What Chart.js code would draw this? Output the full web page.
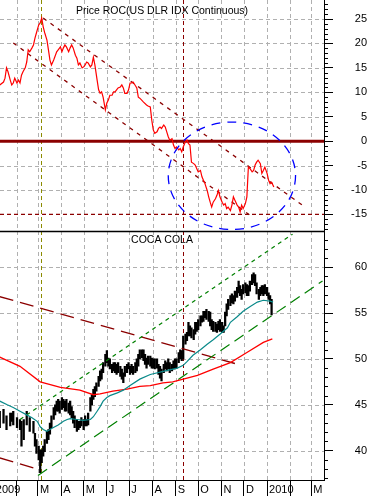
<!DOCTYPE html>
<html>
<head>
<meta charset="utf-8">
<script src="https://cdn.jsdelivr.net/npm/chart.js@4.4.1/dist/chart.umd.min.js"></script>
<style>
  html, body { margin: 0; padding: 0; background: #fff; overflow: hidden; }
</style>
</head>
<body>
<canvas id="chart" width="371" height="496"></canvas>
<script>
// x axis: days since 1 Jan 2009, ticks at month starts
const monthDays = [0, 31, 59, 90, 120, 151, 181, 212, 243, 273, 304, 334, 365, 396, 424];
const monthLabels = ['2009', '', 'M', 'A', 'M', 'J', 'J', 'A', 'S', 'O', 'N', 'D', '2010', '', 'M'];
const dayRange = [8.3, 441];

// top panel: Price ROC of the dollar index
const rocTicks = [-15, -10, -5, 0, 5, 10, 15, 20, 25];
const rocRange = [-18.5, 28.9];
const rocDays = [8, 13, 15, 17, 19, 22, 24, 26, 28, 31, 33, 35, 37, 39, 42, 44, 46, 48, 51, 53, 55, 57, 60, 62, 64, 66, 68, 71, 73, 75,
  77, 80, 84, 86, 89, 91, 93, 95, 97, 100, 102, 104, 106, 109, 111, 113, 115, 118, 120, 122, 124, 126, 129, 131, 133, 135, 138, 140,
  142, 144, 146, 149, 151, 153, 155, 158, 160, 162, 164, 166, 169, 171, 173, 175, 178, 180, 182, 184, 186, 189, 191, 193, 195, 200,
  204, 206, 209, 211, 213, 215, 218, 220, 222, 224, 227, 229, 231, 233, 235, 238, 240, 242, 244, 247, 249, 251, 253, 256, 258, 260,
  262, 264, 267, 269, 271, 273, 276, 278, 280, 282, 285, 287, 289, 291, 293, 296, 298, 300, 302, 305, 307, 309, 311, 313, 316, 318,
  320, 322, 325, 327, 329, 331, 333, 336, 338, 340, 342, 345, 347, 349, 351, 353, 356, 358, 360, 362, 365, 367, 369, 371, 374];
const rocValues = [11.5, 12.1, 12.9, 15.0, 14.2, 12.5, 11.5, 11.9, 12.9, 11.9, 12.5, 11.9, 13.5, 14.2, 15.0, 16.2, 18.7, 18.3, 19.1,
  19.7, 21.1, 22.2, 23.8, 24.2, 25.2, 23.4, 22.2, 20.7, 18.7, 16.6, 15.6, 16.6, 18.3, 18.7, 19.3, 18.3, 19.1, 19.7, 19.3, 18.3, 19.1,
  19.7, 19.1, 17.6, 17.0, 15.6, 16.0, 15.0, 15.2, 15.6, 16.2, 16.0, 15.2, 15.6, 17.2, 15.6, 12.5, 10.5, 9.8, 10.1, 9.0, 6.4, 7.8, 8.4,
  9.4, 9.4, 10.1, 10.1, 10.5, 10.9, 11.1, 11.5, 10.9, 9.8, 9.8, 10.5, 11.9, 11.9, 12.1, 11.4, 10.9, 9.0, 8.8, 8.0, 7.4, 7.2, 7.0, 4.3,
  2.3, 1.6, 1.9, 2.6, 2.9, 2.6, 3.3, 2.9, 1.9, 0.9, 0.2, 0.5, -0.8, -1.5, -1.2, -1.8, -1.5, -2.2, -1.2, -0.1, 0.2, -0.5, -0.8, -4.3,
  -4.6, -4.9, -5.6, -6.3, -6.0, -7.3, -8.0, -8.7, -10.1, -11.4, -12.5, -13.5, -12.5, -11.8, -11.1, -10.1, -11.4, -12.5, -13.1, -12.8,
  -13.8, -13.5, -14.2, -13.1, -11.4, -12.1, -13.1, -13.5, -14.5, -13.1, -13.8, -12.8, -11.4, -5.3, -5.6, -6.3, -6.0, -4.9, -4.3, -3.9,
  -4.6, -6.6, -6.0, -5.3, -6.6, -8.0, -8.7, -8.4, -9.4];
const rocLevels = [0, -15];
const rocUpperDays = [66, 412];
const rocUpperValues = [25.2, -13.1];
const rocLowerDays = [26, 346];
const rocLowerValues = [20.1, -15.6];
// circled area: centre day, centre value, half width in days, half height in ROC points
const rocCircle = [318, -7.1, 85, 11.0];

// bottom panel: Coca Cola daily range and averages
const cokeTicks = [40, 45, 50, 55, 60];
const cokeRange = [36.8, 63.9];
const cokeDays = [8, 13, 17, 22, 24, 26, 31, 35, 37, 40, 44, 48, 53, 55, 57, 60, 62, 64, 66, 68, 71, 73, 75, 77, 80, 82, 84, 86, 88,
  91, 93, 95, 97, 100, 102, 104, 106, 108, 111, 113, 115, 117, 120, 122, 124, 126, 129, 131, 133, 135, 137, 140, 142, 144, 146, 149,
  151, 153, 155, 158, 160, 162, 164, 166, 169, 171, 173, 175, 178, 180, 182, 184, 186, 189, 191, 193, 195, 198, 200, 202, 204, 206,
  209, 211, 213, 215, 218, 220, 222, 224, 227, 229, 231, 233, 235, 238, 240, 242, 244, 247, 249, 251, 253, 256, 258, 260, 262, 264,
  267, 269, 271, 273, 276, 278, 280, 282, 284, 287, 289, 291, 293, 296, 298, 300, 302, 305, 307, 309, 311, 313, 316, 318, 320, 322,
  325, 327, 329, 331, 333, 336, 338, 340, 342, 345, 347, 349, 351, 354, 356, 358, 360, 362, 365, 367, 369, 371];
const cokeLow = [42.5, 43.0, 42.3, 42.7, 43.2, 42.8, 42.5, 42.3, 40.5, 41.2, 42.8, 42.1, 41.9, 40.5, 39.7, 39.0, 37.6, 38.7, 39.4,
  39.9, 40.8, 41.2, 41.8, 42.5, 43.4, 43.9, 44.3, 44.3, 44.1, 44.5, 44.7, 44.3, 44.3, 44.1, 43.9, 43.6, 43.0, 42.5, 42.1, 42.3, 42.5,
  42.7, 42.3, 42.7, 42.7, 42.8, 44.3, 45.0, 45.6, 45.9, 46.5, 47.0, 47.6, 47.8, 48.5, 49.2, 49.6, 49.2, 48.9, 48.5, 48.7, 48.5, 48.3,
  48.5, 48.1, 47.8, 47.4, 48.1, 48.5, 48.9, 48.3, 48.5, 48.3, 48.5, 48.7, 49.2, 50.0, 50.1, 49.8, 49.4, 49.0, 49.4, 49.2, 49.0, 49.0,
  48.9, 49.0, 48.3, 47.9, 47.6, 48.5, 48.9, 48.7, 48.9, 48.5, 48.7, 48.9, 48.9, 49.0, 49.6, 50.0, 49.8, 50.0, 51.6, 52.0, 52.5, 52.5,
  52.3, 52.1, 52.7, 53.0, 53.2, 53.6, 54.0, 54.1, 54.5, 54.3, 54.1, 53.6, 53.2, 53.0, 53.0, 52.9, 53.2, 53.0, 52.9, 52.9, 53.6, 54.7,
  55.4, 55.8, 56.1, 56.0, 56.3, 56.7, 57.2, 56.9, 56.5, 57.1, 57.2, 56.9, 56.9, 57.4, 58.1, 58.3, 58.0, 57.1, 56.5, 56.9, 57.1, 56.9,
  57.1, 56.9, 56.5, 56.0, 54.8];
const cokeHigh = [44.3, 44.5, 43.8, 44.1, 44.1, 44.3, 43.6, 43.4, 43.2, 43.4, 44.3, 43.6, 43.2, 41.9, 41.2, 40.5, 40.1, 40.1, 40.5,
  41.2, 42.1, 42.3, 43.0, 43.8, 44.7, 45.0, 45.4, 45.6, 45.4, 45.8, 45.6, 45.4, 45.6, 45.2, 45.4, 44.8, 44.3, 43.8, 43.4, 43.2, 43.2,
  43.6, 43.4, 43.8, 43.4, 44.1, 45.8, 46.1, 46.7, 47.0, 47.4, 48.1, 48.7, 48.9, 49.6, 50.5, 50.9, 50.1, 50.0, 49.4, 49.6, 49.6, 49.4,
  49.6, 49.2, 48.9, 48.5, 49.2, 49.4, 49.6, 49.2, 49.4, 49.2, 49.6, 50.0, 50.5, 51.0, 51.0, 51.0, 50.5, 50.1, 50.3, 50.3, 50.1, 50.0,
  50.0, 50.0, 49.4, 49.2, 48.9, 49.4, 49.8, 49.6, 50.0, 49.6, 49.4, 49.8, 50.0, 50.0, 50.7, 51.0, 50.9, 52.5, 52.7, 52.9, 54.0, 53.6,
  53.4, 53.2, 54.0, 54.0, 54.3, 54.7, 54.7, 55.2, 55.2, 55.4, 55.2, 55.1, 54.3, 54.1, 54.0, 53.8, 54.1, 54.3, 54.0, 53.6, 55.1, 56.0,
  56.5, 56.9, 57.1, 56.9, 57.4, 57.8, 58.5, 58.0, 57.6, 58.1, 58.3, 58.1, 58.0, 58.5, 59.2, 59.4, 59.2, 58.3, 57.6, 57.8, 58.0, 58.0,
  58.1, 57.8, 57.2, 56.9, 56.5];
const fastAvgDays = [8, 18, 26, 35, 44, 51, 58, 62, 66, 71, 75, 79, 86, 93, 98, 102, 111, 119, 129, 133, 138, 142, 146, 151, 155, 165,
  173, 182, 195, 209, 229, 245, 253, 258, 266, 276, 285, 293, 302, 312, 316, 325, 333, 342, 352, 360, 369, 373];
const fastAvg = [45.4, 45.0, 44.7, 44.3, 43.9, 43.6, 43.2, 42.6, 42.3, 42.1, 42.3, 42.5, 42.8, 43.2, 43.4, 43.5, 43.4, 43.3, 43.4,
  43.7, 44.3, 44.8, 45.4, 45.8, 46.0, 46.3, 46.6, 47.1, 47.8, 48.3, 48.7, 49.0, 49.3, 49.7, 50.4, 51.0, 51.6, 52.1, 52.7, 53.4, 54.0,
  54.6, 55.2, 55.7, 56.2, 56.4, 56.3, 56.2];
const slowAvgDays = [8, 35, 62, 89, 115, 133, 142, 159, 178, 195, 209, 226, 239, 253, 272, 293, 316, 338, 360, 372];
const slowAvg = [50.2, 49.2, 47.5, 46.9, 46.6, 46.1, 46.2, 46.5, 46.7, 47.0, 47.1, 47.4, 47.5, 47.8, 48.2, 48.9, 49.6, 50.7, 51.8, 52.2];
const cokeUpperDays = [35, 399];
const cokeUpperValues = [43.4, 63.6];
const cokeMidDays = [59, 439];
const cokeMidValues = [37.3, 58.5];
const cokeFallDays = [8, 322];
const cokeFallValues = [56.8, 49.5];
const cokeFallLowDays = [8, 62];
const cokeFallLowValues = [39.2, 37.9];

// dates marked with vertical lines (early March low, mid September)
const markerDays = [63, 253];

const FONT = '"Liberation Sans", Arial, sans-serif';
const DARK_RED = '#8b0000';
const GRID = '#b0b0b0';

function lineSet(days, values, axis, color, width, dash, order) {
  return {
    type: 'line',
    data: days.map((d, i) => ({ x: d, y: values[i] })),
    yAxisID: axis,
    borderColor: color,
    borderWidth: width,
    borderDash: dash,
    pointRadius: 0,
    fill: false,
    tension: 0,
    order: order
  };
}

function strokeSegment(ctx, x1, y1, x2, y2) {
  ctx.beginPath();
  ctx.moveTo(x1, y1);
  ctx.lineTo(x2, y2);
  ctx.stroke();
}

// extra drawing: dashed grid, marker lines, circle, panel divider, minor ticks, titles
const panelExtras = {
  id: 'panelExtras',
  beforeDatasetsDraw(chart) {
    const { ctx, chartArea: a, scales: { x, yTop, yBot } } = chart;
    ctx.save();
    ctx.lineWidth = 1;
    ctx.setLineDash([4, 3]);
    // grid at the month and value ticks
    ctx.strokeStyle = GRID;
    monthDays.forEach(d => {
      const px = Math.round(x.getPixelForValue(d)) + 0.5;
      if (px > a.left && px < a.right) strokeSegment(ctx, px, a.top, px, a.bottom);
    });
    [[yTop, rocTicks], [yBot, cokeTicks]].forEach(([s, ticks]) => {
      ticks.forEach(v => {
        const py = Math.round(s.getPixelForValue(v)) + 0.5;
        strokeSegment(ctx, a.left, py, a.right, py);
      });
    });
    // marked dates
    const colors = ['#8b8b00', DARK_RED];
    markerDays.forEach((d, i) => {
      const px = Math.round(x.getPixelForValue(d)) + 0.5;
      ctx.strokeStyle = colors[i];
      strokeSegment(ctx, px, a.top, px, a.bottom);
    });
    ctx.restore();
  },
  afterDatasetsDraw(chart) {
    const { ctx, scales: { x, yTop } } = chart;
    const cx = x.getPixelForValue(rocCircle[0]);
    const cy = yTop.getPixelForValue(rocCircle[1]);
    const rx = Math.abs(x.getPixelForValue(rocCircle[0] + rocCircle[2]) - cx);
    const ry = Math.abs(yTop.getPixelForValue(rocCircle[1] + rocCircle[3]) - cy);
    ctx.save();
    ctx.strokeStyle = '#0000ff';
    ctx.lineWidth = 1.3;
    ctx.setLineDash([9, 7]);
    ctx.beginPath();
    ctx.ellipse(cx, cy, rx, ry, 0, 0, Math.PI * 2);
    ctx.stroke();
    ctx.restore();
  },
  afterDraw(chart) {
    const { ctx, chartArea: a, scales: { yTop, yBot } } = chart;
    ctx.save();
    // divider between the two panels
    ctx.strokeStyle = '#000';
    ctx.lineWidth = 1.5;
    strokeSegment(ctx, a.left, yTop.bottom, a.right, yTop.bottom);
    // minor ticks every unit
    ctx.lineWidth = 1;
    [yTop, yBot].forEach(s => {
      for (let v = Math.ceil(s.min); v <= Math.floor(s.max); v++) {
        if (v % 5 === 0) continue;
        const py = Math.round(s.getPixelForValue(v)) + 0.5;
        strokeSegment(ctx, s.left, py, s.left + 4, py);
      }
    });
    // panel titles
    ctx.fillStyle = '#000';
    ctx.font = '10.5px ' + FONT;
    ctx.textAlign = 'center';
    ctx.textBaseline = 'middle';
    const mid = (a.left + a.right) / 2;
    ctx.fillText('Price ROC(US DLR IDX Continuous)', mid, yTop.top + 11);
    ctx.fillText('COCA COLA', mid, yBot.top + 9);
    ctx.restore();
  }
};

function yScale(range, ticks, weight, pad) {
  return {
    type: 'linear',
    position: 'right',
    stack: 'panels',
    stackWeight: weight,
    min: range[0],
    max: range[1],
    afterBuildTicks: s => { s.ticks = ticks.map(v => ({ value: v })); },
    afterFit: s => { s.width = 43; s.paddingTop = 0; s.paddingBottom = 0; },
    ticks: {
      autoSkip: false, crossAlign: 'far', padding: pad, color: '#000',
      font: { family: FONT, size: 11 }, callback: v => String(v)
    },
    grid: { drawOnChartArea: false, tickLength: 9, tickColor: '#000', tickWidth: 1 },
    border: { display: true, color: '#000', width: 1 }
  };
}

new Chart(document.getElementById('chart'), {
  type: 'line',
  data: {
    datasets: [
      lineSet(rocDays, rocValues, 'yTop', '#ff0000', 1.2, [], 2),
      lineSet(dayRange, [rocLevels[0], rocLevels[0]], 'yTop', DARK_RED, 3, [], 3),
      lineSet(dayRange, [rocLevels[1], rocLevels[1]], 'yTop', DARK_RED, 1.3, [4, 3], 3),
      lineSet(rocUpperDays, rocUpperValues, 'yTop', DARK_RED, 1.3, [4, 5], 3),
      lineSet(rocLowerDays, rocLowerValues, 'yTop', DARK_RED, 1.3, [4, 5], 3),
      lineSet(fastAvgDays, fastAvg, 'yBot', '#0a8a8a', 1.2, [], 2),
      lineSet(slowAvgDays, slowAvg, 'yBot', '#ff0000', 1.3, [], 2),
      lineSet(cokeUpperDays, cokeUpperValues, 'yBot', '#008000', 1.2, [4, 4], 3),
      lineSet(cokeMidDays, cokeMidValues, 'yBot', '#008000', 1.2, [11, 6], 3),
      lineSet(cokeFallDays, cokeFallValues, 'yBot', DARK_RED, 1.4, [14, 7], 3),
      lineSet(cokeFallLowDays, cokeFallLowValues, 'yBot', DARK_RED, 1.4, [14, 7], 3),
      {
        type: 'bar',
        data: cokeDays.map((d, i) => ({ x: d, y: [cokeLow[i], cokeHigh[i]] })),
        yAxisID: 'yBot',
        backgroundColor: '#000',
        barThickness: 1.6,
        grouped: false,
        order: 6
      }
    ]
  },
  options: {
    responsive: false,
    animation: false,
    devicePixelRatio: 1,
    events: [],
    layout: { padding: { left: 0, right: 4, top: 0, bottom: 0 } },
    plugins: { legend: { display: false }, tooltip: { enabled: false } },
    scales: {
      x: {
        type: 'linear',
        position: 'bottom',
        min: dayRange[0],
        max: dayRange[1],
        offset: false,
        afterBuildTicks: s => { s.ticks = monthDays.map(v => ({ value: v })); },
        afterFit: s => { s.height = 16; s.paddingLeft = 0; s.paddingRight = 0; },
        ticks: {
          autoSkip: false, maxRotation: 0, minRotation: 0, align: 'start', labelOffset: 2, padding: -13,
          color: '#000', font: { family: FONT, size: 11 },
          callback: (v, i) => monthLabels[i]
        },
        grid: { drawOnChartArea: false, offset: false, tickLength: 16, tickColor: '#000', tickWidth: 1 },
        border: { display: true, color: '#000', width: 1 }
      },
      yTop: yScale(rocRange, rocTicks, 231, 18),
      yBot: yScale(cokeRange, cokeTicks, 248, 22)
    }
  },
  plugins: [panelExtras]
});
</script>
</body>
</html>
